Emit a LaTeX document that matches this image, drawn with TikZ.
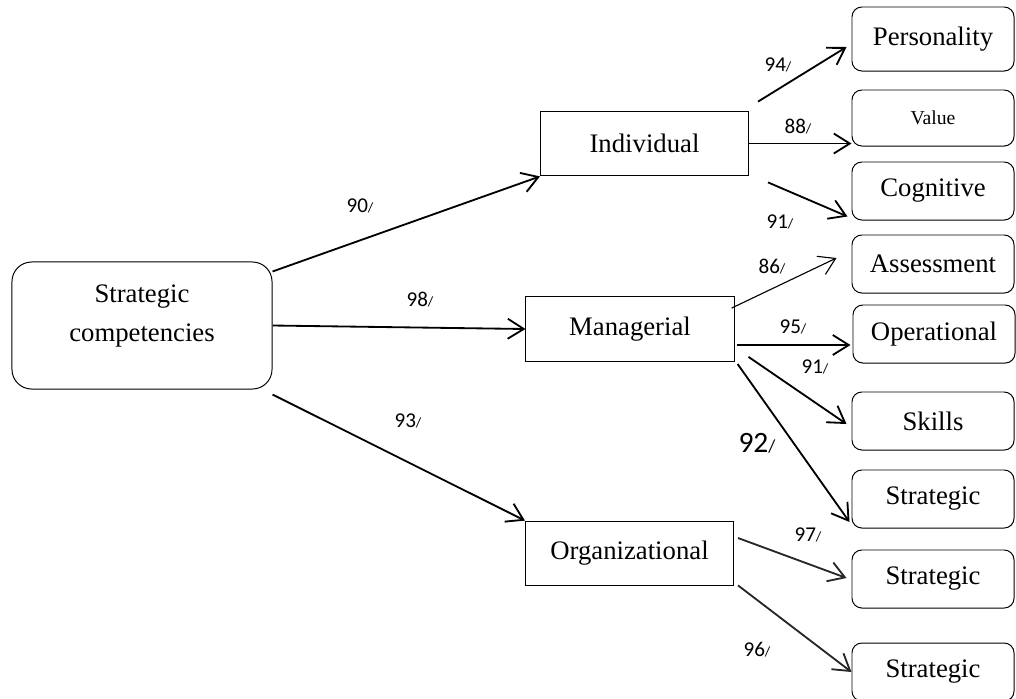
\documentclass[tikz,border=0pt]{standalone}
\usepackage{fontspec}
\setmainfont{Liberation Serif}
\newfontfamily\labelfont{Carlito}
\usetikzlibrary{positioning, calc, arrows.meta}
\definecolor{scLine}{HTML}{000000}
\definecolor{scInk}{HTML}{262626}
\tikzset{
    scBoxBase/.style={
        rectangle,
        draw=scLine,
        line width=0.7pt,
        align=center,
        inner sep=2pt,
        font=\fontsize{19}{28}\selectfont
    },
    % Variants
    rootBox/.style={scBoxBase, rounded corners=14pt, minimum width=6.5cm, minimum height=3.175cm},
    groupBox/.style={scBoxBase, minimum width=5.2cm, minimum height=1.62cm},
    itemBox/.style={scBoxBase, rounded corners=7pt, minimum width=4.05cm, minimum height=1.45cm},
    % Arrows
    scArrowBase/.style={-{Straight Barb[length=4mm,width=5mm]}, line width=1.3pt, draw=scLine},
    scThin/.style={scArrowBase, line width=0.8pt},
    scLabel/.style={font=\labelfont\fontsize{15}{17}\selectfont, inner sep=1pt}
}
\newcommand{\coef}[2][10]{#2{\fontsize{#1}{#1}\selectfont/}}

\begin{document}
\begin{tikzpicture}[x=0.025cm, y=-0.025cm]
    \useasboundingbox (0,0) rectangle (1016,698);

    \node[rootBox] (sc) at (142,325.5) {Strategic\\competencies\\[-10pt]\mbox{}};

    \node[groupBox] (ind) at (644.5,143.5) {Individual};
    \node[groupBox] (man) at (630,329) {Managerial};
    \node[groupBox] (org) at (629.5,553.5) {Organizational};

    \node[itemBox, minimum height=1.6cm] (per) at (933,39) {Personality};
    \node[itemBox, minimum height=1.4cm, font=\fontsize{14}{16}\selectfont] (val) at (933,118) {Value};
    \node[itemBox] (cog) at (933,191) {Cognitive};
    \node[itemBox] (ass) at (933,264) {Assessment};
    \node[itemBox] (ope) at (934,334) {Operational};
    \node[itemBox] (ski) at (933,421) {Skills};
    \node[itemBox] (stA) at (933,499) {Strategic};
    \node[itemBox] (stB) at (933,579) {Strategic};
    \node[itemBox] (stC) at (933,672) {Strategic};

    \draw[scArrowBase] ($(sc.north east)+(0,10)$) -- (ind.south west);
    \draw[scArrowBase] (sc.east) -- (man.west);
    \draw[scArrowBase] ($(sc.south east)+(0,5)$) -- (org.north west);

    \draw[scArrowBase] ($(ind.north east)+(9,-9)$) -- ($(per.west)+(-5,8)$);
    \draw[scArrowBase] (ind.east) -- (ind.east -| val.west);
    \draw[scArrowBase] ($(ind.south east)+(19,6)$) -- ($(cog.south west)+(-4,-4)$);

    \draw[scThin] ($(man.north east)+(-3,12)$) -- ($(ass.west)+(-15,-6)$);
    \draw[scArrowBase] ($(man.east)+(2,16)$) -- ($(ope.west)+(-2,11)$);
    \draw[scArrowBase] ($(man.south east)+(14,-5)$) -- ($(ski.west)+(-5,3)$);
    \draw[scArrowBase] ($(man.south east)+(3,2)$) -- ($(stA.west)+(-2,23)$);

    \draw[scArrowBase, draw=scInk] ($(org.east)+(4,-15.5)$) -- ($(stB.west)+(-5,-1)$);
    \draw[scArrowBase, draw=scInk] ($(org.south east)+(4,-1)$) -- (stC.west);

    \node[scLabel] (w90) at (360,206) {\coef{90}};
    \node[scLabel] (w98) at (420,300) {\coef{98}};
    \node[scLabel] (w93) at (408,421) {\coef{93}};
    \node[scLabel] (w94) at (778,65) {\coef{94}};
    \node[scLabel] (w88) at (798,127) {\coef{88}};
    \node[scLabel] (w91a) at (780,222) {\coef{91}};
    \node[scLabel] (w86) at (772,267) {\coef{86}};
    \node[scLabel] (w95) at (793,327) {\coef{95}};
    \node[scLabel] (w91b) at (815,367) {\coef{91}};
    \node[scLabel, font=\labelfont\fontsize{21}{24}\selectfont] (w92) at (757,443) {\coef[13]{92}};
    \node[scLabel] (w97) at (808,535) {\coef{97}};
    \node[scLabel] (w96) at (757,650) {\coef{96}};
\end{tikzpicture}
\end{document}
